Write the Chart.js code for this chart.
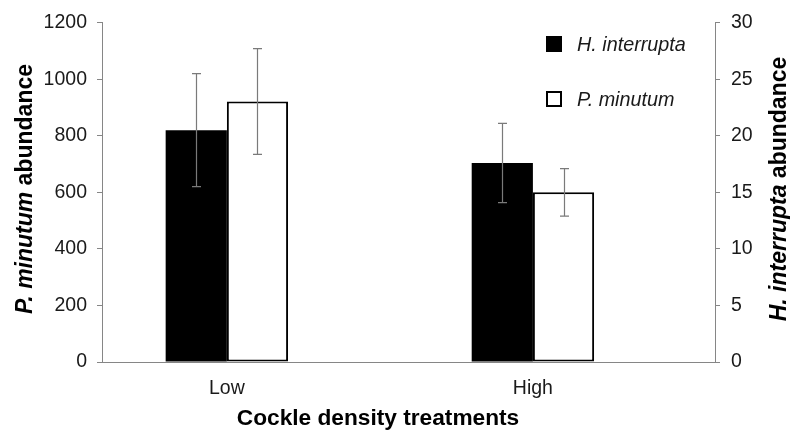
<!DOCTYPE html>
<html><head><meta charset="utf-8">
<style>html,body{margin:0;padding:0;background:#fff}canvas{display:block}</style>
<script src="https://cdn.jsdelivr.net/npm/chart.js@4/dist/chart.umd.min.js"></script>
</head><body>
<canvas id="c" width="790" height="432"></canvas>
<script>
const categories = ['Low', 'High'];
const hInterruptaMean = [20.5, 17.6];
const hInterruptaErr = [5.0, 3.5];
const pMinutumMean = [921, 600];
const pMinutumErr = [187, 84];
const seriesNames = ['H. interrupta', 'P. minutum'];

const FONT = "'Liberation Sans', Arial, sans-serif";
const AXIS = '#868686';
const TXT = '#1a1a1a';

const errorBars = {
  id: 'errorBars',
  afterDatasetsDraw(chart) {
    const ctx = chart.ctx;
    ctx.save();
    ctx.strokeStyle = '#7a7a7a';
    ctx.lineWidth = 1.2;
    chart.data.datasets.forEach((ds, di) => {
      const meta = chart.getDatasetMeta(di);
      const sc = chart.scales[ds.yAxisID];
      meta.data.forEach((el, i) => {
        const m = ds.means[i], e = ds.errs[i];
        const yt = sc.getPixelForValue(m + e), yb = sc.getPixelForValue(m - e);
        const x = Math.round(el.x) + 0.5;
        ctx.beginPath();
        ctx.moveTo(x, yt); ctx.lineTo(x, yb);
        ctx.moveTo(x - 4.5, yt); ctx.lineTo(x + 4.5, yt);
        ctx.moveTo(x - 4.5, yb); ctx.lineTo(x + 4.5, yb);
        ctx.stroke();
      });
    });
    ctx.restore();
  }
};

const decor = {
  id: 'decor',
  afterDraw(chart) {
    const ctx = chart.ctx;
    ctx.save();
    const items = chart.data.datasets;
    const tops = [36, 91];
    items.forEach((ds, i) => {
      const y = tops[i];
      ctx.fillStyle = ds.backgroundColor;
      ctx.fillRect(546, y, 16, 16);
      ctx.strokeStyle = '#000';
      ctx.lineWidth = 2;
      ctx.strokeRect(547, y + 1, 14, 14);
      ctx.fillStyle = TXT;
      ctx.font = 'italic 19.8px ' + FONT;
      ctx.textBaseline = 'middle';
      ctx.textAlign = 'left';
      ctx.fillText(ds.label, 577, y + 9);
    });
    function vTitle(cx, cy, parts) {
      ctx.save();
      ctx.translate(cx, cy);
      ctx.rotate(-Math.PI / 2);
      ctx.textBaseline = 'middle';
      ctx.textAlign = 'left';
      let total = 0;
      parts.forEach(p => { ctx.font = p[1] + ' 23px ' + FONT; total += ctx.measureText(p[0]).width; });
      let x = -total / 2;
      ctx.fillStyle = '#000';
      parts.forEach(p => { ctx.font = p[1] + ' 23px ' + FONT; ctx.fillText(p[0], x, 0); x += ctx.measureText(p[0]).width; });
      ctx.restore();
    }
    vTitle(26, 189, [[seriesNames[1], 'italic bold'], [' abundance', 'bold']]);
    vTitle(780, 189, [[seriesNames[0], 'italic bold'], [' abundance', 'bold']]);
    ctx.font = 'bold 22.7px ' + FONT;
    ctx.fillStyle = '#000';
    ctx.textAlign = 'center';
    ctx.textBaseline = 'middle';
    ctx.fillText('Cockle density treatments', 378, 419);
    ctx.restore();
  }
};

new Chart(document.getElementById('c'), {
  type: 'bar',
  data: {
    datasets: [
      {
        label: seriesNames[0],
        data: categories.map((c, i) => ({ x: i, y: hInterruptaMean[i] })),
        means: hInterruptaMean, errs: hInterruptaErr,
        yAxisID: 'y2',
        backgroundColor: '#000', borderColor: '#000', borderWidth: 0,
        categoryPercentage: 0.4, barPercentage: 1
      },
      {
        label: seriesNames[1],
        data: categories.map((c, i) => ({ x: i, y: pMinutumMean[i] })),
        means: pMinutumMean, errs: pMinutumErr,
        yAxisID: 'y',
        backgroundColor: '#fff', borderColor: '#000', borderWidth: 2, borderSkipped: false,
        categoryPercentage: 0.4, barPercentage: 1
      }
    ]
  },
  options: {
    responsive: false,
    animation: false,
    devicePixelRatio: 1,
    layout: { padding: { top: 16, left: 0, right: 0, bottom: 0 } },
    plugins: { legend: { display: false }, tooltip: { enabled: false } },
    scales: {
      x: {
        type: 'linear', position: 'bottom', min: -0.408, max: 1.595, offset: false, bounds: 'ticks',
        afterBuildTicks: s => { s.ticks = categories.map((c, i) => ({ value: i })); },
        afterDataLimits: s => { s.min = -0.408; s.max = 1.595; },
        afterFit: s => { s.height = 70; },
        grid: { display: false, drawTicks: false, offset: false },
        border: { display: true, color: AXIS, width: 1 },
        ticks: { callback: v => categories[v], padding: 15, autoSkip: false, maxRotation: 0,
                 color: TXT, font: { family: FONT, size: 19.5 } }
      },
      y: {
        position: 'left', min: 0, max: 1200,
        afterFit: s => { s.width = 102; },
        grid: { drawOnChartArea: false, drawTicks: true, tickLength: 5, color: AXIS },
        border: { color: AXIS, width: 1 },
        ticks: { stepSize: 200, padding: 10, color: TXT, font: { family: FONT, size: 19.5 },
                 callback: v => String(v) }
      },
      y2: {
        position: 'right', min: 0, max: 30,
        afterFit: s => { s.width = 75; },
        grid: { drawOnChartArea: false, drawTicks: true, tickLength: 5, color: AXIS },
        border: { color: AXIS, width: 1 },
        ticks: { stepSize: 5, padding: 11, color: TXT, font: { family: FONT, size: 19.5 },
                 callback: v => String(v) }
      }
    }
  },
  plugins: [errorBars, decor]
});
</script>
</body></html>
